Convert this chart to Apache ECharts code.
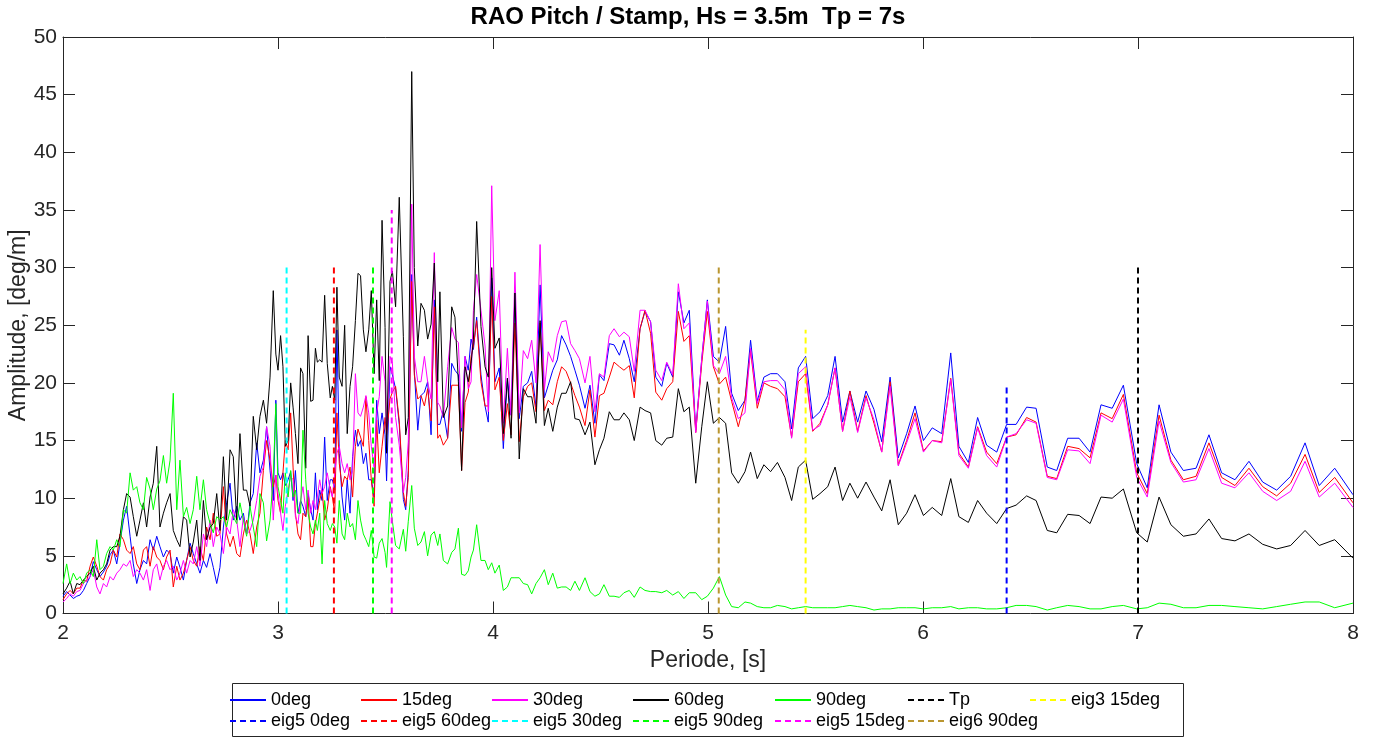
<!DOCTYPE html>
<html><head><meta charset="utf-8">
<script src="https://cdn.jsdelivr.net/npm/echarts@6/dist/echarts.min.js"></script>
<style>html,body{margin:0;padding:0;background:#fff}#c{width:1376px;height:738px}</style>
</head><body><div id="c"></div>
<script>
// Period grid [s]
const periods = [
2.000,2.017,2.033,2.048,2.064,2.079,2.095,2.110,2.126,2.141,2.157,2.172,2.188,2.203,2.219,2.234,2.250,2.265,2.281,2.296,2.312,2.327,2.343,2.358,2.374,2.389,2.405,2.420,2.436,2.451,2.467,2.482,2.498,
2.513,2.529,2.544,2.560,2.575,2.591,2.606,2.622,2.637,2.653,2.668,2.684,2.699,2.715,2.730,2.746,2.761,2.777,2.792,2.808,2.823,2.839,2.854,2.870,2.885,2.901,2.916,2.932,2.947,2.963,2.978,2.990,
3.000,3.012,3.023,3.034,3.047,3.059,3.070,3.081,3.093,3.105,3.116,3.129,3.140,3.152,3.163,3.174,3.183,3.194,3.205,3.217,3.229,3.243,3.253,3.264,3.274,3.285,3.298,3.310,3.322,3.335,3.347,3.360,3.372,3.384,3.397,3.409,3.422,3.434,3.447,3.459,3.471,3.484,
3.498,3.505,3.521,3.532,3.547,3.564,3.583,3.594,3.606,3.622,3.634,3.650,3.665,3.681,3.696,3.712,3.727,3.743,3.753,3.769,3.789,3.808,3.823,3.839,3.854,3.870,3.885,3.898,3.909,3.924,3.944,3.963,3.978,
3.994,4.009,4.029,4.048,4.067,4.084,4.102,4.122,4.141,4.161,4.180,4.200,4.219,4.239,4.257,4.278,4.299,4.319,4.340,4.361,4.381,4.402,4.428,4.451,4.474,4.495,4.516,4.541,4.563,4.588,4.609,4.634,4.657,4.684,4.707,4.733,4.757,4.785,4.808,4.836,4.862,4.888,4.913,4.943,4.971,4.997,5.025,5.053,5.082,5.110,5.141,5.172,5.198,5.229,
5.260,5.291,5.323,5.358,5.389,5.420,5.454,5.487,5.521,5.557,5.591,5.626,5.660,5.696,5.735,5.772,5.808,5.847,5.885,5.924,5.963,6.002,6.043,6.087,6.129,6.167,6.211,6.254,6.296,6.343,6.389,6.433,6.482,6.526,
6.578,6.622,6.673,6.726,6.777,6.828,6.880,6.932,6.994,7.043,7.098,7.153,7.211,7.270,7.330,7.389,7.451,7.516,7.580,7.645,7.710,7.777,7.843,7.915,8.000];

// Amplitude [deg/m] per heading
const amp0deg = [
1.5,1.9,1.6,1.3,1.5,1.6,2.0,2.6,3.2,4.5,3.8,3.2,3.6,4.1,5.1,5.5,4.3,6.1,8.1,9.3,6.7,4.3,2.6,3.8,4.6,4.3,6.4,5.5,6.7,5.8,4.9,5.5,5.2,
3.5,4.9,4.0,2.9,4.6,6.1,5.2,4.3,3.5,4.6,4.0,5.2,4.0,2.6,4.0,7.5,9.6,11.3,8.1,9.3,8.1,8.7,6.9,9.6,10.4,14.8,12.2,13.3,16.2,12.4,9.8,18.5,
12.2,11.6,12.2,11.1,11.6,12.3,9.8,12.4,8.7,9.8,9.3,8.4,10.4,9.0,8.1,12.2,9.0,10.7,9.8,15.3,9.8,11.6,11.6,10.7,24.6,13.9,10.1,8.1,11.6,8.7,13.6,15.9,14.5,15.0,13.0,13.9,11.6,11.6,10.1,18.5,15.6,17.4,
15.5,11.5,21.4,20.7,19.5,16.4,9.9,9.0,12.4,29.4,21.1,15.9,18.9,19.2,20.1,15.5,27.2,16.4,16.4,17.6,15.2,21.7,21.1,20.7,15.8,22.3,21.1,23.8,22.9,25.7,20.7,18.0,16.6,
29.1,20.1,21.3,14.3,20.4,17.2,27.8,16.9,19.7,20.0,21.0,17.9,28.5,18.7,19.8,21.1,22.0,24.1,23.3,22.3,21.1,19.8,17.8,19.8,16.5,20.7,20.2,23.4,23.3,22.4,23.7,22.1,20.1,24.7,26.2,25.3,20.5,19.7,21.7,20.5,27.9,25.2,26.3,15.9,22.1,27.2,22.3,21.8,24.9,19.1,17.6,18.5,23.7,18.4,
20.5,20.8,20.8,20.1,16.0,21.3,22.3,16.9,17.5,18.9,22.3,16.6,19.3,16.6,19.3,17.7,14.9,20.5,13.5,15.6,18.0,15.0,16.1,15.6,22.6,14.5,13.1,17.0,14.6,14.0,16.4,16.4,17.9,17.8,
12.7,12.4,15.2,15.2,14.0,18.1,17.8,19.8,13.0,10.9,18.1,14.0,12.4,12.6,15.5,12.2,11.6,13.2,11.4,10.7,11.9,14.8,11.1,12.6,10.3];

const amp15deg = [
1.2,1.7,2.0,1.7,2.2,2.2,2.9,2.8,4.1,4.9,4.1,3.2,2.9,3.8,4.3,5.5,4.9,6.9,6.4,5.5,5.2,5.8,4.3,3.8,5.5,5.8,4.1,5.8,4.9,4.6,3.8,4.9,5.5,
2.3,4.1,2.9,3.5,4.6,5.8,4.6,4.1,5.8,4.6,7.5,6.4,8.7,6.7,6.9,11.0,6.9,5.8,6.7,5.2,4.9,6.9,8.1,6.9,5.2,7.5,8.7,12.4,15.0,13.3,11.0,12.0,
9.8,8.7,12.2,15.0,14.2,17.4,12.7,8.7,6.9,6.4,8.7,8.4,10.1,5.8,5.8,7.8,8.7,9.8,10.7,8.1,9.0,11.0,10.1,8.7,17.4,13.0,11.0,11.9,11.6,12.7,10.1,14.5,16.0,15.3,14.5,18.8,15.0,11.6,9.3,16.8,12.2,14.5,
17.0,15.5,18.6,19.2,19.7,16.7,10.5,9.3,11.8,28.8,20.7,18.6,18.9,18.0,19.5,16.7,26.6,15.2,15.5,14.6,15.2,19.8,19.8,19.8,12.4,18.3,19.2,22.3,23.2,25.4,20.1,18.0,18.0,
27.5,19.4,20.5,15.0,18.2,15.5,25.2,14.9,18.8,19.7,20.0,17.5,25.2,17.6,18.5,18.1,20.1,21.4,21.0,20.0,18.9,17.9,16.3,19.4,15.3,18.9,19.1,20.5,21.8,21.4,21.1,21.5,18.7,24.7,26.3,24.3,19.2,18.5,19.5,20.1,26.2,23.6,24.1,15.7,21.7,26.2,21.4,19.9,20.5,18.4,16.2,18.5,22.8,17.8,
20.0,19.7,19.5,18.8,15.3,20.1,20.8,15.8,16.5,18.1,21.3,15.8,19.3,15.8,18.9,16.5,14.0,20.1,12.9,15.0,17.4,14.1,15.0,14.9,20.4,13.9,12.7,16.2,14.0,13.0,15.3,15.5,17.0,16.6,
11.9,11.7,14.5,14.3,13.5,17.4,16.9,19.0,12.2,10.4,17.2,13.3,11.6,11.9,14.8,11.8,11.1,12.6,11.0,10.2,11.3,13.8,10.5,11.8,9.6];

const amp30deg = [
1.0,1.3,1.7,1.5,1.9,2.0,2.6,2.9,3.2,3.8,2.3,1.7,2.6,2.3,3.2,2.9,3.5,3.8,4.3,4.1,4.6,3.2,3.8,3.5,2.9,3.8,2.0,3.8,4.3,2.9,4.1,4.6,3.8,
4.1,2.9,3.5,4.6,3.5,4.6,4.3,5.8,4.1,6.9,5.8,8.1,5.8,7.5,6.9,5.2,7.5,6.9,9.0,8.1,5.8,8.4,6.9,7.2,8.1,9.8,11.9,12.7,16.2,14.5,8.1,12.0,
10.4,8.7,7.2,9.3,10.7,11.9,11.6,8.4,7.8,9.8,11.0,9.0,10.7,8.7,9.8,9.0,10.1,11.6,10.4,11.0,12.2,10.7,10.1,12.2,13.9,14.5,13.0,12.2,13.0,11.6,12.4,20.8,17.4,17.1,17.9,18.9,17.4,14.5,12.7,17.4,18.8,22.3,
20.1,15.5,22.3,21.7,17.0,14.6,10.5,11.8,14.9,35.5,22.3,20.1,20.1,22.3,20.1,18.6,31.3,18.3,18.0,17.0,21.4,24.8,23.8,23.5,16.1,22.3,19.5,20.1,26.3,29.4,26.3,23.2,17.5,
37.1,25.4,28.0,16.5,23.0,17.2,29.6,17.4,22.8,22.1,23.7,20.0,32.0,19.4,22.7,21.8,24.1,25.3,25.4,23.4,22.8,22.1,20.0,22.3,17.5,20.8,20.5,24.1,24.7,24.0,24.4,24.0,21.0,26.3,26.3,25.3,21.1,20.2,21.8,20.7,28.6,24.7,25.2,15.7,22.1,27.1,21.5,20.8,22.3,18.7,16.9,17.4,23.0,18.2,
20.1,20.2,20.2,19.4,15.2,20.8,21.4,15.9,16.3,18.1,21.3,15.8,18.8,15.7,18.7,16.8,14.0,19.7,12.8,14.8,16.9,14.0,15.0,14.8,20.3,13.7,12.6,16.1,13.7,12.7,15.3,15.6,16.8,16.5,
11.8,11.6,14.2,14.1,13.0,17.2,16.6,18.6,11.8,10.1,16.7,13.1,11.4,11.6,14.3,11.3,10.9,12.2,10.6,9.8,10.6,13.2,10.1,11.3,9.2];

const amp60deg = [
1.7,2.2,2.8,1.7,2.6,2.5,2.9,3.2,3.5,4.1,2.9,3.5,3.8,4.3,5.5,5.8,5.8,6.7,9.0,10.4,10.1,8.4,6.7,8.1,9.6,7.5,10.1,11.3,14.5,7.5,8.7,9.6,10.4,
7.2,6.4,5.8,8.4,8.1,4.9,6.2,8.1,4.6,9.8,6.4,7.5,7.8,10.4,7.2,13.6,8.1,14.2,13.6,8.1,15.6,10.7,10.7,9.3,17.1,14.2,17.1,18.5,16.5,20.5,28.0,22.5,
21.1,24.1,21.4,14.5,15.0,20.0,17.9,15.6,13.0,21.3,20.8,12.6,24.1,18.4,18.5,23.0,21.8,22.0,21.8,27.6,21.7,18.7,19.7,18.5,28.3,20.5,19.7,25.0,15.6,19.7,21.4,25.4,29.5,29.3,24.6,22.7,24.6,28.0,20.8,27.2,20.2,34.1,
24.8,13.9,28.8,29.7,26.6,36.1,24.0,15.5,17.0,47.0,30.0,23.2,26.9,26.3,23.8,25.1,30.4,20.1,27.9,17.0,18.0,26.6,25.7,20.1,12.4,21.4,20.1,21.7,23.8,34.0,24.9,21.4,20.5,
30.0,23.0,23.9,15.6,20.4,15.2,27.8,13.4,19.5,18.8,18.8,16.5,25.4,16.3,17.8,15.8,17.9,19.1,19.1,20.1,16.9,16.8,15.5,16.6,12.9,14.2,15.2,17.5,16.8,16.8,17.4,16.8,15.0,17.9,17.6,17.4,15.0,14.6,15.2,15.3,19.5,17.5,17.9,11.3,16.2,20.1,16.5,17.0,16.5,12.2,11.3,12.3,14.0,11.7,
12.9,12.3,13.1,11.8,9.8,12.7,13.3,9.9,10.4,11.0,12.7,9.8,11.3,10.0,11.4,10.1,8.9,11.6,7.7,8.7,10.3,8.5,9.2,8.5,11.7,8.4,7.9,9.8,8.7,7.8,9.1,9.4,10.2,9.8,
7.2,7.0,8.6,8.5,7.8,10.1,10.0,10.8,7.0,6.2,10.1,7.7,6.7,6.9,8.2,6.5,6.3,6.9,6.0,5.6,5.9,7.2,5.9,6.4,4.8];

const amp90deg = [
2.6,4.3,2.6,3.5,2.9,3.2,2.6,3.5,3.8,3.2,6.4,3.8,4.1,5.2,5.8,5.5,6.4,5.8,9.0,8.7,12.2,10.7,11.0,9.6,9.0,11.8,10.8,9.0,10.8,11.5,13.7,11.3,13.3,
19.1,9.0,13.3,8.4,9.2,7.8,9.0,11.9,9.0,11.6,9.0,7.8,7.0,8.4,8.1,8.4,7.5,9.0,8.4,7.8,9.6,8.1,6.7,9.3,7.5,5.8,10.4,9.6,6.3,8.1,11.9,18.2,
11.0,9.8,8.7,12.2,10.1,12.4,10.1,10.7,8.7,8.7,15.9,11.6,8.7,7.5,6.9,8.1,7.2,8.7,4.3,9.8,7.8,7.2,7.8,7.5,6.1,9.8,6.9,6.4,8.7,7.5,7.8,6.4,9.8,8.1,6.9,6.4,5.8,7.2,4.9,4.8,6.1,6.5,
5.3,4.0,9.7,8.0,5.9,5.6,7.3,5.4,8.0,11.1,7.4,5.9,6.2,7.1,5.0,6.8,7.1,5.9,6.9,4.6,4.3,5.3,5.6,7.4,3.4,3.3,3.7,4.9,5.5,7.7,4.6,4.6,3.8,
4.4,3.5,4.2,2.0,2.3,3.1,3.1,3.1,2.6,2.5,1.7,2.6,3.1,3.8,2.5,3.5,2.2,2.3,2.3,2.0,2.8,2.0,3.1,1.9,1.5,1.7,2.5,1.5,1.5,1.4,1.8,2.0,1.4,2.3,2.0,1.9,1.9,1.8,2.0,1.6,1.9,1.3,1.8,1.8,1.2,1.5,2.2,3.2,1.6,0.6,0.5,1.0,0.9,0.6,
0.5,0.5,0.7,0.6,0.4,0.5,0.6,0.5,0.5,0.5,0.5,0.6,0.7,0.6,0.5,0.3,0.4,0.4,0.5,0.5,0.5,0.4,0.5,0.5,0.6,0.4,0.5,0.5,0.4,0.4,0.5,0.7,0.7,0.6,
0.3,0.5,0.7,0.6,0.4,0.4,0.6,0.7,0.4,0.5,0.9,0.8,0.5,0.5,0.7,0.7,0.6,0.5,0.4,0.6,0.8,1.0,1.0,0.5,0.9];

// Reference (dashed) lines: Tp and eigen periods
const refNames   = ['Tp', 'eig3 15deg', 'eig5 0deg', 'eig5 60deg', 'eig5 30deg', 'eig5 90deg', 'eig5 15deg', 'eig6 90deg'];
const refPeriods = [7.0, 5.454, 6.389, 3.26, 3.04, 3.442, 3.529, 5.05];
const refHeights = [30, 24.6, 19.8, 30, 30, 30, 35, 30];

const headingNames = ['0deg', '15deg', '30deg', '60deg', '90deg'];
const headingData = [amp0deg, amp15deg, amp30deg, amp60deg, amp90deg];

const headingColors = ['#0000FF', '#FF0000', '#FF00FF', '#000000', '#00FF00'];
const refColors = ['#000000', '#FFFF00', '#0000FF', '#FF0000', '#00FFFF', '#00FF00', '#FF00FF', '#BA9630'];

const FONT = '"Liberation Sans", Arial, Helvetica, sans-serif';
const AX = '#262626';

const series = [];
headingNames.forEach((n, k) => {
  series.push({
    name: n, type: 'line', symbol: 'none', showSymbol: false, silent: true,
    data: periods.map((t, i) => [t, headingData[k][i]]),
    lineStyle: { color: headingColors[k], width: 1 },
    itemStyle: { color: headingColors[k] },
    emphasis: { disabled: true }, z: 2 + k
  });
});
refNames.forEach((n, k) => {
  series.push({
    name: n, type: 'line', symbol: 'none', showSymbol: false, silent: true,
    data: [[refPeriods[k], 0], [refPeriods[k], refHeights[k]]],
    lineStyle: { color: refColors[k], width: 2, type: [6, 4] },
    itemStyle: { color: refColors[k] },
    emphasis: { disabled: true }, z: 10
  });
});

// legend grid: 7 columns x 2 rows
const legendRows = [
  ['0deg', '15deg', '30deg', '60deg', '90deg', 'Tp', 'eig3 15deg'],
  ['eig5 0deg', 'eig5 60deg', 'eig5 30deg', 'eig5 90deg', 'eig5 15deg', 'eig6 90deg']
];
const colTextX = [270, 401, 532, 673, 815, 948, 1070];
const rowCenterY = [700, 721];
const legends = [];
legendRows.forEach((row, r) => row.forEach((name, c) => {
  legends.push({
    data: [name], selectedMode: false, orient: 'horizontal',
    left: colTextX[c] - 41, top: rowCenterY[r] - 9, padding: 0,
    itemWidth: 36, itemHeight: 14, itemGap: 0,
    itemStyle: { opacity: 0 },
    textStyle: { fontFamily: FONT, fontSize: 18, color: '#000' }
  });
}));

const gridL = 63, gridT = 37, gridR = 1376 - 1353, gridB = 738 - 613.5;

const chart = echarts.init(document.getElementById('c'), null, { renderer: 'canvas' });
chart.setOption({
  animation: false,
  backgroundColor: '#fff',
  title: {
    text: 'RAO Pitch / Stamp, Hs = 3.5m  Tp = 7s',
    left: 'center', top: 5, padding: [0, 0, 0, 40],
    textStyle: { fontFamily: FONT, fontSize: 24, fontWeight: 'bold', color: '#000' }
  },
  grid: { left: gridL, top: gridT, right: gridR, bottom: gridB, containLabel: false, outerBoundsMode: 'none' },
  graphic: [{
    type: 'rect', left: 232, top: 683, z: -1, silent: true,
    shape: { width: 951, height: 53 },
    style: { fill: '#fff', stroke: '#262626', lineWidth: 1 }
  }],
  legend: legends,
  xAxis: [{
    type: 'value', min: 2, max: 8, interval: 1, position: 'bottom',
    name: 'Periode, [s]', nameLocation: 'middle', nameGap: 36, nameMoveOverlap: false,
    nameTextStyle: { fontFamily: FONT, fontSize: 23, color: AX },
    axisLine: { show: true, onZero: false, lineStyle: { color: AX, width: 1 } },
    axisTick: { show: true, inside: true, length: 12, lineStyle: { color: AX } },
    axisLabel: { fontFamily: FONT, fontSize: 21, color: AX, margin: 9 },
    splitLine: { show: false }
  }, {
    type: 'value', min: 2, max: 8, interval: 1, position: 'top',
    axisLine: { show: true, onZero: false, lineStyle: { color: AX, width: 1 } },
    axisTick: { show: true, inside: true, length: 12, lineStyle: { color: AX } },
    axisLabel: { show: false }, splitLine: { show: false }
  }],
  yAxis: [{
    type: 'value', min: 0, max: 50, interval: 5, position: 'left',
    name: 'Amplitude, [deg/m]', nameLocation: 'middle', nameGap: 33, nameMoveOverlap: false,
    nameTextStyle: { fontFamily: FONT, fontSize: 23, color: AX },
    axisLine: { show: true, onZero: false, lineStyle: { color: AX, width: 1 } },
    axisTick: { show: true, inside: true, length: 12, lineStyle: { color: AX } },
    axisLabel: { fontFamily: FONT, fontSize: 21, color: AX, margin: 6 },
    splitLine: { show: false }
  }, {
    type: 'value', min: 0, max: 50, interval: 5, position: 'right',
    axisLine: { show: true, onZero: false, lineStyle: { color: AX, width: 1 } },
    axisTick: { show: true, inside: true, length: 12, lineStyle: { color: AX } },
    axisLabel: { show: false }, splitLine: { show: false }
  }],
  series: series
});
</script>
</body></html>
